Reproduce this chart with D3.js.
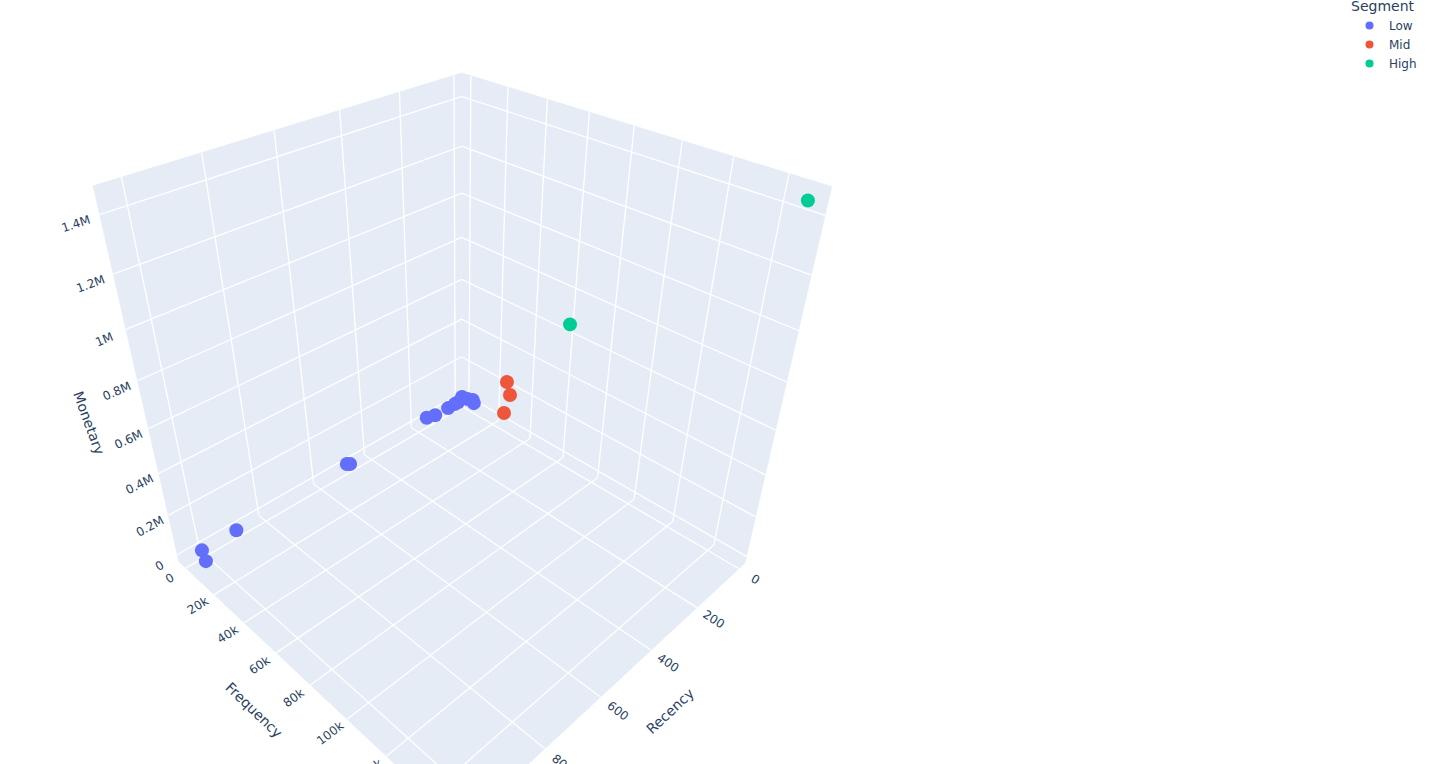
<!DOCTYPE html>
<html><head><meta charset="utf-8">
<script src="https://cdnjs.cloudflare.com/ajax/libs/d3/7.8.5/d3.min.js"></script>
<style>html,body{margin:0;padding:0;background:#fff;overflow:hidden}svg{display:block}text{font-family:"DejaVu Sans",Verdana,sans-serif;fill:#2a3f5f}</style>
</head><body>
<script>
// ---- data ----
const seriesNames = ["Low", "Mid", "High"];
const seriesColors = ["#636efa", "#EF553B", "#00cc96"];
const lowRecency   = [1010, 1025, 900, 498, 491, 165, 129, 72, 40, 25, 5, 1, 1, 1];
const lowFrequency = [120, 6300, 800, 300, 1300, 200, 400, 700, 500, 500, 300, 3500, 7000, 7700];
const lowMonetary  = [4000, 3000, 12000, 20000, 20000, 21000, 10000, 11000, 10000, 10000, 25000, 26000, 37000, 23000];
const midRecency   = [10, 10, 10];
const midFrequency = [29700, 31800, 28500];
const midMonetary  = [248000, 190000, 77000];
const highRecency   = [10, 10];
const highFrequency = [62900, 150600];
const highMonetary  = [673000, 1453000];
const recencyTicks   = [0, 200, 400, 600, 800, 1000];
const frequencyTicks = [0, 20000, 40000, 60000, 80000, 100000, 120000, 140000];
const monetaryTicks  = [0, 200000, 400000, 600000, 800000, 1000000, 1200000, 1400000];
const recencyLabels   = ["0", "200", "400", "600", "800", "1000"];
const frequencyLabels = ["0", "20k", "40k", "60k", "80k", "100k", "120k", "140k"];
const monetaryLabels  = ["0", "0.2M", "0.4M", "0.6M", "0.8M", "1M", "1.2M", "1.4M"];
const recencyRange   = [-30, 1066];
const frequencyRange = [-5100, 154500];
const monetaryRange  = [-36000, 1491000];

// ---- scales: data to scene units ----
const sx = d3.scaleLinear().domain([0, 1000]).range([0, 1]);
const sy = d3.scaleLinear().domain([0, 100000]).range([0, 1]);
const sz = d3.scaleLinear().domain([0, 1000000]).range([0, 1]);
// camera: scene units to screen
const cam = [-293.51342, 89.56616, -57.96121, 462.59898, 52.31792, 35.92567, -226.0731, 400.49857, -0.17544, -0.12194, -0.12589];
function project(r, f, m) {
  const a = sx(r), b = sy(f), c = sz(m);
  const w = cam[8]*a + cam[9]*b + cam[10]*c + 1;
  return [(cam[0]*a + cam[1]*b + cam[2]*c + cam[3]) / w, (cam[4]*a + cam[5]*b + cam[6]*c + cam[7]) / w];
}
const [R0, R1] = recencyRange, [F0, F1] = frequencyRange, [Z0, Z1] = monetaryRange;
const line = d3.line();

const svg = d3.select("body").append("svg").attr("width", 1437).attr("height", 764);
// walls
const walls = [
  [[R0,F0,Z0],[R1,F0,Z0],[R1,F0,Z1],[R0,F0,Z1]],
  [[R0,F0,Z0],[R0,F1,Z0],[R0,F1,Z1],[R0,F0,Z1]],
  [[R0,F0,Z0],[R1,F0,Z0],[R1,F1,Z0],[R0,F1,Z0]]
];
svg.append("g").selectAll("path").data(walls).join("path")
  .attr("d", d => line(d.map(p => project(...p))) + "Z").attr("fill", "#E5ECF6").attr("stroke", "#E5ECF6").attr("stroke-width", .5);
// grid
const grid = [];
recencyTicks.forEach(t => { grid.push([[t,F0,Z0],[t,F0,Z1]]); grid.push([[t,F0,Z0],[t,F1,Z0]]); });
frequencyTicks.forEach(t => { grid.push([[R0,t,Z0],[R0,t,Z1]]); grid.push([[R0,t,Z0],[R1,t,Z0]]); });
monetaryTicks.forEach(t => { grid.push([[R0,F0,t],[R1,F0,t]]); grid.push([[R0,F0,t],[R0,F1,t]]); });
svg.append("g").selectAll("path").data(grid).join("path")
  .attr("d", d => line(d.map(p => project(...p)))).attr("fill", "none").attr("stroke", "#fff").attr("stroke-width", 1.3);

// tick labels, turned along the scene's axes
function angle(a, b) {
  const p = project(...a), q = project(...b);
  let deg = Math.atan2(q[1]-p[1], q[0]-p[0]) * 180 / Math.PI;
  if (deg > 90) deg -= 180; if (deg < -90) deg += 180;
  return deg;
}
function tickLabels(values, labels, at, dir) {
  svg.append("g").selectAll("text").data(values.map((v,i)=>({v,l:labels[i]})).filter(d => at(d.v)[1] < 785)).join("text")
    .attr("font-size", 12).attr("text-anchor", "middle").attr("dominant-baseline", "central")
    .attr("transform", d => { const p = at(d.v); return `translate(${p[0]},${p[1]}) rotate(${angle(...dir(d.v))})`; })
    .text(d => d.l);
}
tickLabels(recencyTicks, recencyLabels, t => project(t, F1 + 7500, Z0 - 5000), t => [[t,F0,Z0],[t,F1,Z0]]);
tickLabels(frequencyTicks, frequencyLabels, t => project(R1 + 50, t, Z0 - 5000), t => [[R0,t,Z0],[R1,t,Z0]]);
tickLabels(monetaryTicks, monetaryLabels, t => project(R1 + 55, F0, t - 5000), t => [[R0,F0,t],[R1,F0,t]]);

// axis titles
const titles = [["Recency", 670, 711, -43], ["Frequency", 254, 710, 44], ["Monetary", 89, 423, 70]];
svg.append("g").selectAll("text").data(titles).join("text")
  .attr("font-size", 14).attr("text-anchor", "middle").attr("dominant-baseline", "central")
  .attr("transform", d => `translate(${d[1]},${d[2]}) rotate(${d[3]})`).text(d => d[0]);

// markers
const traces = [[lowRecency, lowFrequency, lowMonetary], [midRecency, midFrequency, midMonetary], [highRecency, highFrequency, highMonetary]];
traces.forEach((t, k) => {
  svg.append("g").selectAll("circle").data(t[0].map((_, i) => project(t[0][i], t[1][i], t[2][i]))).join("circle")
    .attr("cx", d => d[0]).attr("cy", d => d[1]).attr("r", 7).attr("fill", seriesColors[k]);
});

// legend
const legend = svg.append("g");
legend.append("text").attr("x", 1351).attr("y", 11).attr("font-size", 14).text("Segment");
const rows = legend.selectAll("g").data(seriesNames).join("g").attr("transform", (d, i) => `translate(0,${25.5 + i * 19})`);
rows.append("circle").attr("cx", 1369.5).attr("r", 4).attr("fill", (d, i) => seriesColors[i]);
rows.append("text").attr("x", 1389).attr("y", 4.5).attr("font-size", 12).text(d => d);
</script>
</body></html>
